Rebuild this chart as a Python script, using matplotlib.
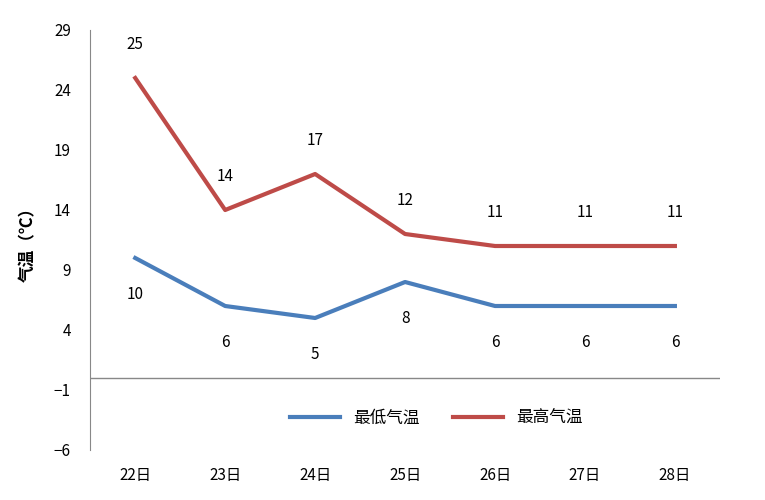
import matplotlib
matplotlib.use("Agg")
import matplotlib.pyplot as plt

plt.rcParams['font.family'] = ['Noto Sans CJK SC', 'DejaVu Sans']

days = ["22日", "23日", "24日", "25日", "26日", "27日", "28日"]
low = [10, 6, 5, 8, 6, 6, 6]
high = [25, 14, 17, 12, 11, 11, 11]
yticks = [-6, -1, 4, 9, 14, 19, 24, 29]

fig = plt.figure(figsize=(7.65, 5), dpi=100)
ax = fig.add_axes([0.118, 0.1, 0.823, 0.84])
x = list(range(len(days)))
ax.plot(x, low, color="#4A7EBB", lw=3, label="最低气温")
ax.plot(x, high, color="#BE4B48", lw=3, label="最高气温")
for i in x:
    ax.annotate(str(high[i]), (i, high[i]), xytext=(0, 18), textcoords="offset points",
                ha="center", va="bottom", fontsize=11)
    ax.annotate(str(low[i]), (i, low[i]), xytext=(0, -20), textcoords="offset points",
                ha="center", va="top", fontsize=11)
ax.axhline(0, color="#888888", lw=1)
ax.set_xlim(-0.5, 6.5)
ax.set_ylim(-6, 29)
ax.set_yticks(yticks)
ax.set_xticks(x)
ax.set_xticklabels(days, fontsize=11)
ax.tick_params(axis="x", length=0, pad=12)
ax.tick_params(axis="y", length=0, labelsize=11, pad=14)
for s in ["top", "right", "bottom"]:
    ax.spines[s].set_visible(False)
ax.spines["left"].set_color("#888888")
ax.set_ylabel("气温（℃）", fontsize=12, fontweight="bold", labelpad=12)
ax.legend(loc="lower center", bbox_to_anchor=(0.55, 0.02), ncol=2, frameon=False,
          fontsize=12, handlelength=3, columnspacing=2)
fig.savefig("out.png", dpi=100)
